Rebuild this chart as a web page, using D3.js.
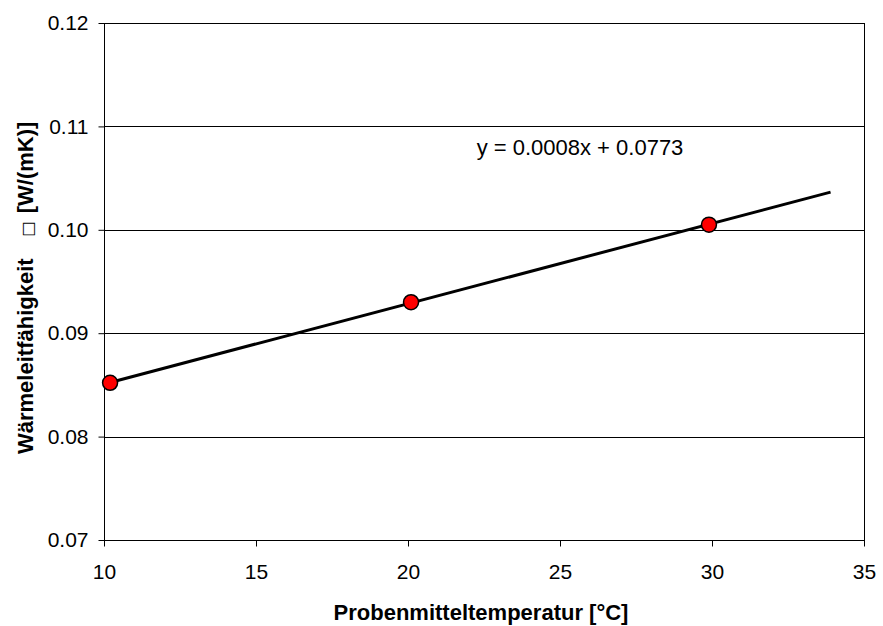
<!DOCTYPE html>
<html>
<head>
<meta charset="utf-8">
<script src="https://cdn.jsdelivr.net/npm/d3@7"></script>
<style>
  html, body { margin: 0; padding: 0; background: #fff; }
  text { font-family: "Liberation Sans", Arial, sans-serif; fill: #000; }
</style>
</head>
<body>
<svg id="chart" width="883" height="626"></svg>
<script>
// measured points
const temps = [10.2, 20.1, 29.9];
const conductivity = [0.0852, 0.0930, 0.1005];
const xTicks = [10, 15, 20, 25, 30, 35];
const yTicks = [0.07, 0.08, 0.09, 0.10, 0.11, 0.12];
const xTitle = "Probenmitteltemperatur [°C]";
const yTitleParts = ["Wärmeleitfähigkeit", "□", "[W/(mK)]"];
const trendForward = 4; // trendline extended forward (x units)

const width = 883, height = 626;
const margin = { top: 23, right: 19, bottom: 86, left: 104 };
const svg = d3.select("#chart");

const x = d3.scaleLinear().domain([10, 35]).range([margin.left, width - margin.right]);
const y = d3.scaleLinear().domain([0.07, 0.12]).range([height - margin.bottom, margin.top]);

// gridlines
svg.append("g")
  .selectAll("line")
  .data(yTicks.slice(1))
  .join("line")
  .attr("x1", x(10)).attr("x2", x(35))
  .attr("y1", d => Math.round(y(d)) + 0.5).attr("y2", d => Math.round(y(d)) + 0.5)
  .attr("stroke", "#000").attr("stroke-width", 1);

// plot border
svg.append("rect")
  .attr("x", Math.round(x(10)) + 0.5).attr("y", Math.round(y(0.12)) + 0.5)
  .attr("width", Math.round(x(35)) - Math.round(x(10)))
  .attr("height", Math.round(y(0.07)) - Math.round(y(0.12)))
  .attr("fill", "none").attr("stroke", "#000").attr("stroke-width", 1);

const xAxis = svg.append("g")
  .attr("transform", `translate(0,${Math.round(y(0.07)) + 0.5})`)
  .call(d3.axisBottom(x).tickValues(xTicks).tickFormat(d3.format("d")).tickSize(6).tickPadding(18));
const yAxis = svg.append("g")
  .attr("transform", `translate(${Math.round(x(10)) + 0.5},0)`)
  .call(d3.axisLeft(y).tickValues(yTicks).tickFormat(d3.format(".2f")).tickSize(6).tickPadding(10));
[xAxis, yAxis].forEach(g => {
  g.select(".domain").remove();
  g.selectAll(".tick line").attr("stroke", "#000");
  g.selectAll(".tick text").attr("fill", "#000")
    .style("font-family", "'Liberation Sans', Arial, sans-serif").style("font-size", "21px");
});

// linear regression trendline
const mx = d3.mean(temps), my = d3.mean(conductivity);
const slope = d3.sum(temps, (t, i) => (t - mx) * (conductivity[i] - my)) / d3.sum(temps, t => (t - mx) ** 2);
const icept = my - slope * mx;
const x0 = d3.min(temps), x1 = d3.max(temps) + trendForward;
svg.append("line")
  .attr("x1", x(x0)).attr("y1", y(slope * x0 + icept))
  .attr("x2", x(x1)).attr("y2", y(slope * x1 + icept))
  .attr("stroke", "#000").attr("stroke-width", 3);

svg.append("g")
  .selectAll("circle")
  .data(temps.map((t, i) => [t, conductivity[i]]))
  .join("circle")
  .attr("cx", d => x(d[0])).attr("cy", d => y(d[1]))
  .attr("r", 7.5)
  .attr("fill", "#ff0000").attr("stroke", "#000").attr("stroke-width", 1.5);

svg.append("text")
  .attr("x", 580).attr("y", 155)
  .attr("text-anchor", "middle")
  .style("font-size", "22px")
  .text(`y = ${slope.toFixed(4)}x + ${icept.toFixed(4)}`);

svg.append("text")
  .attr("x", 481).attr("y", 620)
  .attr("text-anchor", "middle")
  .style("font-size", "22px").style("font-weight", "bold")
  .text(xTitle);

const yt = svg.append("text")
  .attr("transform", "translate(33,454) rotate(-90)")
  .attr("text-anchor", "start")
  .style("font-size", "22px").style("font-weight", "bold");
yt.append("tspan").text(yTitleParts[0]);
yt.append("tspan").attr("dx", 22)
  .style("font-family", "'DejaVu Sans', sans-serif").style("font-weight", "normal").style("font-size", "16px")
  .text(yTitleParts[1]);
yt.append("tspan").attr("dx", 8).text(yTitleParts[2]);
</script>
</body>
</html>
